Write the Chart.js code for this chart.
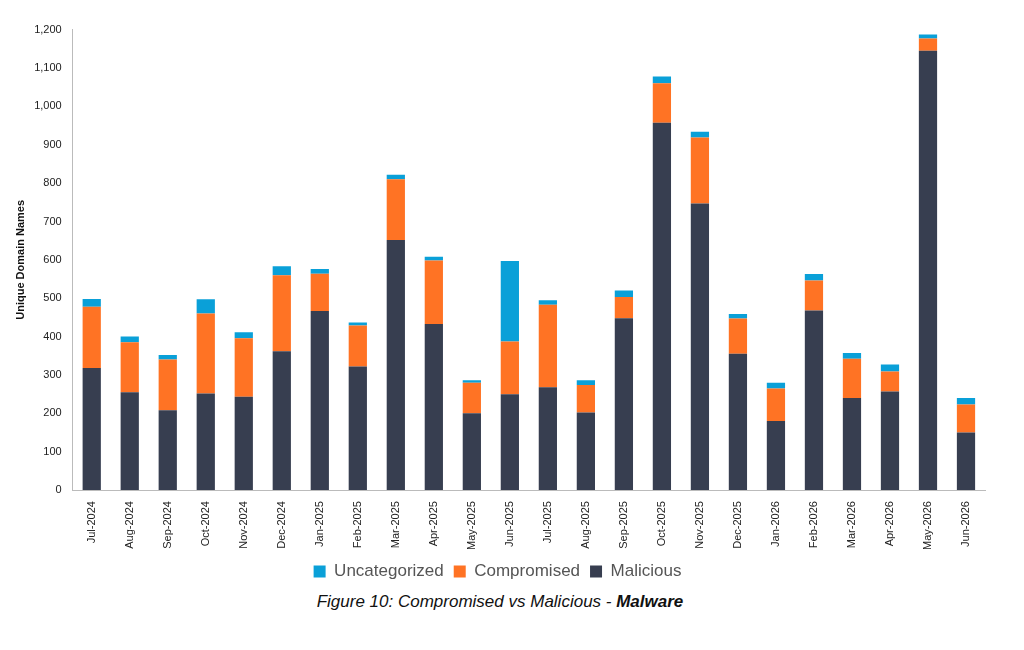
<!DOCTYPE html>
<html>
<head>
<meta charset="utf-8">
<script src="https://cdn.jsdelivr.net/npm/chart.js@4"></script>
<style>
  body { margin: 0; background: #fff; font-family: "Liberation Sans", Arial, sans-serif; }
  #wrap { position: absolute; left: 0; top: 20px; width: 1000px; height: 570px; }
  #caption { position: absolute; top: 592px; left: 0; width: 1000px; text-align: center; font-style: italic; font-size: 17px; color: #111; }
</style>
</head>
<body>
<div id="wrap"><canvas id="chart"></canvas></div>
<div id="caption">Figure 10: Compromised vs Malicious - <b>Malware</b></div>
<script>
const months = ['Jul-2024','Aug-2024','Sep-2024','Oct-2024','Nov-2024','Dec-2024','Jan-2025','Feb-2025','Mar-2025','Apr-2025','May-2025','Jun-2025','Jul-2025','Aug-2025','Sep-2025','Oct-2025','Nov-2025','Dec-2025','Jan-2026','Feb-2026','Mar-2026','Apr-2026','May-2026','Jun-2026'];
const malicious = [318,255,208,252,243,362,467,322,652,433,200,250,268,202,448,957,747,355,180,468,240,257,1145,150];
const compromised = [160,130,132,208,153,198,97,107,158,165,80,137,215,72,55,103,172,92,85,78,102,52,32,73];
const uncategorized = [20,15,12,37,15,23,12,8,12,10,6,210,12,12,17,18,15,12,15,17,15,18,10,17];

new Chart(document.getElementById('chart'), {
    type: 'bar',
    data: {
        labels: months,
        datasets: [
            { label: 'Malicious', data: malicious, backgroundColor: '#373e50' },
            { label: 'Compromised', data: compromised, backgroundColor: '#ff7324' },
            { label: 'Uncategorized', data: uncategorized, backgroundColor: '#0aa0d8' }
        ]
    },
    options: {
        responsive: true,
        maintainAspectRatio: false,
        animation: false,
        datasets: { bar: { barPercentage: 0.48, categoryPercentage: 1 } },
        layout: { padding: { left: 10, right: 15 } },
        plugins: {
            legend: {
                position: 'bottom',
                reverse: true,
                labels: { boxWidth: 12, boxHeight: 12, padding: 10, font: { size: 17 }, color: '#555' }
            },
            tooltip: { enabled: false }
        },
        scales: {
            x: {
                stacked: true,
                grid: { display: false },
                border: { color: '#bbb' },
                ticks: { minRotation: 90, maxRotation: 90, color: '#222', font: { size: 11 } }
            },
            y: {
                stacked: true,
                min: 0,
                max: 1200,
                grid: { display: false },
                border: { color: '#bbb' },
                ticks: { stepSize: 100, color: '#222', font: { size: 11 } },
                title: { display: true, text: 'Unique Domain Names', color: '#111', font: { size: 11, weight: 'bold' } }
            }
        }
    }
});
</script>
</body>
</html>
